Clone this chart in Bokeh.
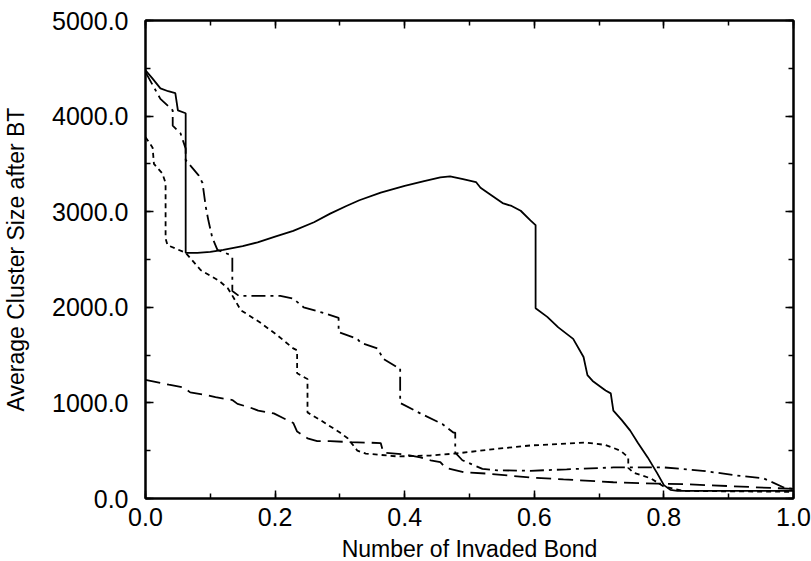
from bokeh.plotting import figure
from bokeh.models import Range1d, LinearAxis, SingleIntervalTicker, PrintfTickFormatter, CustomLabelingPolicy
from bokeh.embed import file_html
from bokeh.resources import INLINE

# ---- data ----
solid_x = [0.0, 0.01, 0.023, 0.035, 0.046, 0.05, 0.062, 0.062, 0.08, 0.10, 0.12, 0.15, 0.173, 0.20,
           0.228, 0.26, 0.285, 0.31, 0.33, 0.363, 0.40, 0.43, 0.455, 0.47, 0.49, 0.51, 0.517, 0.532,
           0.551, 0.565, 0.579, 0.594, 0.602, 0.602, 0.62, 0.637, 0.66, 0.676, 0.682, 0.69, 0.71,
           0.718, 0.722, 0.735, 0.748, 0.76, 0.775, 0.79, 0.80, 0.81, 0.821, 0.9, 1.0]
solid_y = [4480, 4400, 4290, 4260, 4240, 4060, 4030, 2570, 2570, 2580, 2600, 2640, 2680, 2740,
           2800, 2890, 2980, 3060, 3120, 3200, 3270, 3320, 3360, 3370, 3340, 3310, 3250, 3180,
           3090, 3060, 3010, 2910, 2860, 1990, 1900, 1790, 1670, 1480, 1290, 1230, 1130,
           1100, 920, 820, 710, 580, 430, 260, 140, 90, 80, 80, 80]

dashdot_x = [0.0, 0.023, 0.042, 0.042, 0.054, 0.062, 0.062, 0.082, 0.088, 0.093, 0.097, 0.103, 0.111,
             0.13, 0.134, 0.134, 0.144, 0.17, 0.208, 0.228, 0.244, 0.27, 0.298, 0.298, 0.327, 0.332,
             0.358, 0.367, 0.389, 0.393, 0.393, 0.424, 0.458, 0.475, 0.478, 0.478, 0.489, 0.52, 0.543,
             0.594, 0.65, 0.722, 0.8, 0.86, 0.913, 0.954, 0.985, 1.0]
dashdot_y = [4460, 4180, 4060, 3900, 3820, 3660, 3540, 3380, 3300, 3050, 2910, 2730, 2600,
             2550, 2520, 2170, 2120, 2120, 2120, 2090, 2000, 1950, 1890, 1740, 1670, 1630,
             1570, 1460, 1370, 1360, 1000, 890, 780, 690, 690, 480, 400, 310, 295,
             290, 305, 325, 325, 290, 240, 210, 115, 100]

short_x = [0.0, 0.011, 0.013, 0.026, 0.031, 0.031, 0.034, 0.062, 0.085, 0.113, 0.127, 0.136, 0.147,
           0.177, 0.203, 0.228, 0.234, 0.234, 0.247, 0.25, 0.25, 0.27, 0.30, 0.312, 0.327, 0.34,
           0.389, 0.44, 0.478, 0.543, 0.594, 0.625, 0.679, 0.71, 0.733, 0.745, 0.745, 0.753, 0.78,
           0.80, 0.83, 0.9, 1.0]
short_y = [3780, 3670, 3500, 3400, 3300, 2720, 2650, 2570, 2390, 2280, 2200, 2100, 1970,
           1840, 1710, 1570, 1550, 1310, 1260, 1250, 900, 820, 690, 630, 500, 470,
           440, 450, 470, 520, 555, 565, 585, 560, 500, 430, 320, 270, 210,
           125, 80, 75, 70]

long_x = [0.0, 0.036, 0.059, 0.069, 0.096, 0.108, 0.134, 0.142, 0.162, 0.174, 0.198, 0.213, 0.228,
          0.234, 0.25, 0.265, 0.285, 0.316, 0.363, 0.367, 0.40, 0.424, 0.44, 0.455, 0.463, 0.491,
          0.528, 0.594, 0.645, 0.722, 0.79, 0.83, 0.9, 1.0]
long_y = [1240, 1190, 1160, 1110, 1080, 1060, 1030, 990, 950, 920, 890, 840, 790,
          700, 630, 600, 600, 590, 580, 480, 460, 430, 400, 380, 320, 275,
          260, 220, 200, 170, 155, 150, 130, 100]

x_label = "Number of Invaded Bond"
y_label = "Average Cluster Size after BT"

FONT = "Liberation Sans"

p = figure(frame_width=648, frame_height=478,
           x_range=Range1d(0, 1), y_range=Range1d(0, 5000),
           output_backend="svg", toolbar_location=None,
           min_border_left=145, min_border_top=20, min_border_right=10, min_border_bottom=58,
           background_fill_color="white", border_fill_color="white")
p.grid.visible = False
p.outline_line_color = "black"
p.outline_line_width = 2

p.line(solid_x, solid_y, line_color="black", line_width=1.8)
p.line(dashdot_x, dashdot_y, line_color="black", line_width=1.8, line_dash="14 5 3 5")
p.line(short_x, short_y, line_color="black", line_width=1.8, line_dash="5 4")
p.line(long_x, long_y, line_color="black", line_width=1.8, line_dash="15 7")

hide_all = CustomLabelingPolicy(code="""
    for (const i of indices) {
        indices.unset(i)
    }
    return indices
""")

def style(ax, labels=True):
    ax.axis_line_width = 2
    ax.major_tick_in = 8
    ax.major_tick_out = 0
    ax.minor_tick_in = 5
    ax.minor_tick_out = 0
    ax.major_tick_line_width = 1.5
    ax.minor_tick_line_width = 1.5
    if labels:
        ax.major_label_text_font = FONT
        ax.major_label_text_font_size = "25px"
        ax.major_label_text_color = "black"
        ax.axis_label_text_font = FONT
        ax.axis_label_text_font_size = "23px"
        ax.axis_label_text_font_style = "normal"
        ax.axis_label_text_color = "black"
    else:
        ax.major_label_policy = hide_all
        ax.major_label_standoff = 0
        ax.major_label_text_font_size = "10px"

xt = lambda: SingleIntervalTicker(interval=0.2, num_minor_ticks=2)
yt = lambda: SingleIntervalTicker(interval=1000, num_minor_ticks=2)

xa = p.xaxis[0]
xa.ticker = xt()
xa.formatter = PrintfTickFormatter(format="%.1f")
xa.axis_label = x_label
style(xa)
xa.major_label_standoff = 9
xa.axis_label_standoff = 7

ya = p.yaxis[0]
ya.ticker = yt()
ya.formatter = PrintfTickFormatter(format="%.1f")
ya.axis_label = y_label
style(ya)
ya.major_label_standoff = 17
ya.axis_label_standoff = 20

top = LinearAxis(ticker=xt())
style(top, labels=False)
p.add_layout(top, "above")
right = LinearAxis(ticker=yt())
style(right, labels=False)
p.add_layout(right, "right")

open("out.html", "w").write(file_html(p, INLINE))
